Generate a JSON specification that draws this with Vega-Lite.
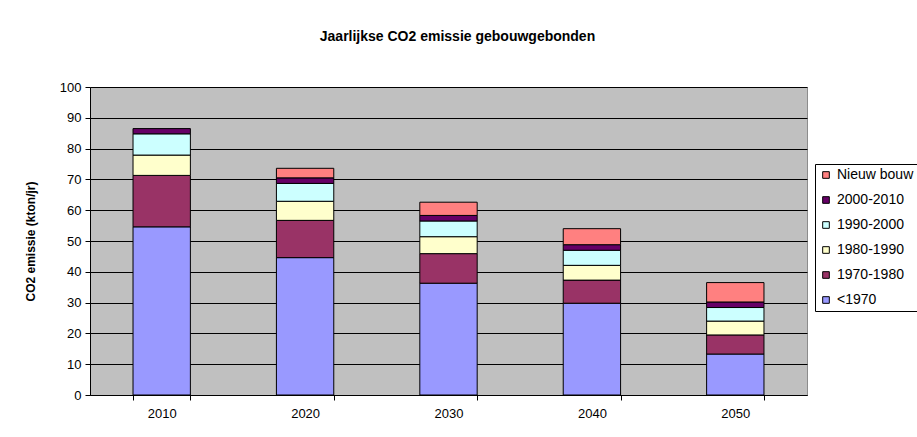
{
  "$schema": "https://vega.github.io/schema/vega-lite/v6.json",
  "autosize": {"type": "none"},
  "padding": {"left": 90, "top": 87, "right": 110, "bottom": 42},
  "width": 717,
  "height": 308,
  "background": "white",
  "title": {
    "text": "Jaarlijkse CO2 emissie gebouwgebonden",
    "font": "Liberation Sans",
    "fontSize": 14,
    "fontWeight": "bold",
    "color": "black",
    "anchor": "middle",
    "offset": 37,
    "dx": 9
  },
  "data": {
    "values": [
      {"jaar": "2010", "periode": "<1970", "rang": 1, "emissie": 54.6},
      {"jaar": "2010", "periode": "1970-1980", "rang": 2, "emissie": 16.7},
      {"jaar": "2010", "periode": "1980-1990", "rang": 3, "emissie": 6.6},
      {"jaar": "2010", "periode": "1990-2000", "rang": 4, "emissie": 6.9},
      {"jaar": "2010", "periode": "2000-2010", "rang": 5, "emissie": 1.7},
      {"jaar": "2020", "periode": "<1970", "rang": 1, "emissie": 44.6},
      {"jaar": "2020", "periode": "1970-1980", "rang": 2, "emissie": 12.1},
      {"jaar": "2020", "periode": "1980-1990", "rang": 3, "emissie": 6.2},
      {"jaar": "2020", "periode": "1990-2000", "rang": 4, "emissie": 5.8},
      {"jaar": "2020", "periode": "2000-2010", "rang": 5, "emissie": 1.8},
      {"jaar": "2020", "periode": "Nieuw bouw", "rang": 6, "emissie": 3.1},
      {"jaar": "2030", "periode": "<1970", "rang": 1, "emissie": 36.3},
      {"jaar": "2030", "periode": "1970-1980", "rang": 2, "emissie": 9.6},
      {"jaar": "2030", "periode": "1980-1990", "rang": 3, "emissie": 5.5},
      {"jaar": "2030", "periode": "1990-2000", "rang": 4, "emissie": 5.1},
      {"jaar": "2030", "periode": "2000-2010", "rang": 5, "emissie": 1.8},
      {"jaar": "2030", "periode": "Nieuw bouw", "rang": 6, "emissie": 4.3},
      {"jaar": "2040", "periode": "<1970", "rang": 1, "emissie": 29.8},
      {"jaar": "2040", "periode": "1970-1980", "rang": 2, "emissie": 7.5},
      {"jaar": "2040", "periode": "1980-1990", "rang": 3, "emissie": 4.8},
      {"jaar": "2040", "periode": "1990-2000", "rang": 4, "emissie": 4.9},
      {"jaar": "2040", "periode": "2000-2010", "rang": 5, "emissie": 1.8},
      {"jaar": "2040", "periode": "Nieuw bouw", "rang": 6, "emissie": 5.2},
      {"jaar": "2050", "periode": "<1970", "rang": 1, "emissie": 13.3},
      {"jaar": "2050", "periode": "1970-1980", "rang": 2, "emissie": 6.2},
      {"jaar": "2050", "periode": "1980-1990", "rang": 3, "emissie": 4.5},
      {"jaar": "2050", "periode": "1990-2000", "rang": 4, "emissie": 4.4},
      {"jaar": "2050", "periode": "2000-2010", "rang": 5, "emissie": 1.8},
      {"jaar": "2050", "periode": "Nieuw bouw", "rang": 6, "emissie": 6.3}
    ]
  },
  "mark": {"type": "bar", "stroke": "black", "strokeWidth": 1},
  "encoding": {
    "x": {
      "field": "jaar",
      "type": "nominal",
      "scale": {"paddingInner": 0.6, "paddingOuter": 0.3},
      "axis": {
        "title": null,
        "labelAngle": 0,
        "labelFont": "Liberation Sans",
        "labelFontSize": 13,
        "labelColor": "black",
        "labelPadding": 7,
        "tickBand": "extent",
        "tickColor": "black",
        "tickSize": 5,
        "domainColor": "black",
        "grid": false
      }
    },
    "y": {
      "field": "emissie",
      "type": "quantitative",
      "stack": "zero",
      "scale": {"domain": [0, 100], "nice": false},
      "axis": {
        "title": "CO2 emissie (kton/jr)",
        "titleFont": "Liberation Sans",
        "titleFontSize": 12,
        "titleFontWeight": "bold",
        "titleColor": "black",
        "titlePadding": 22,
        "values": [0, 10, 20, 30, 40, 50, 60, 70, 80, 90, 100],
        "labelFont": "Liberation Sans",
        "labelFontSize": 13,
        "labelColor": "black",
        "labelPadding": 4,
        "tickColor": "black",
        "tickSize": 5,
        "domainColor": "black",
        "grid": true,
        "gridColor": "black",
        "gridOpacity": 1,
        "gridWidth": 1
      }
    },
    "color": {
      "field": "periode",
      "type": "nominal",
      "scale": {
        "domain": ["Nieuw bouw", "2000-2010", "1990-2000", "1980-1990", "1970-1980", "<1970"],
        "range": ["#FF8080", "#660066", "#CCFFFF", "#FFFFCC", "#993366", "#9999FF"]
      },
      "legend": {
        "title": null,
        "orient": "none",
        "legendX": 725,
        "legendY": 77,
        "padding": 4,
        "strokeColor": "black",
        "fillColor": "white",
        "symbolType": "square",
        "symbolSize": 44,
        "symbolStrokeColor": "black",
        "symbolStrokeWidth": 1,
        "symbolOpacity": 1,
        "labelFont": "Liberation Sans",
        "labelFontSize": 14,
        "labelColor": "black",
        "labelOffset": 4,
        "rowPadding": 11
      }
    },
    "order": {"field": "rang", "type": "quantitative", "sort": "ascending"}
  },
  "config": {
    "view": {"fill": "#C0C0C0", "stroke": "#8C8C8C", "strokeWidth": 1}
  }
}
